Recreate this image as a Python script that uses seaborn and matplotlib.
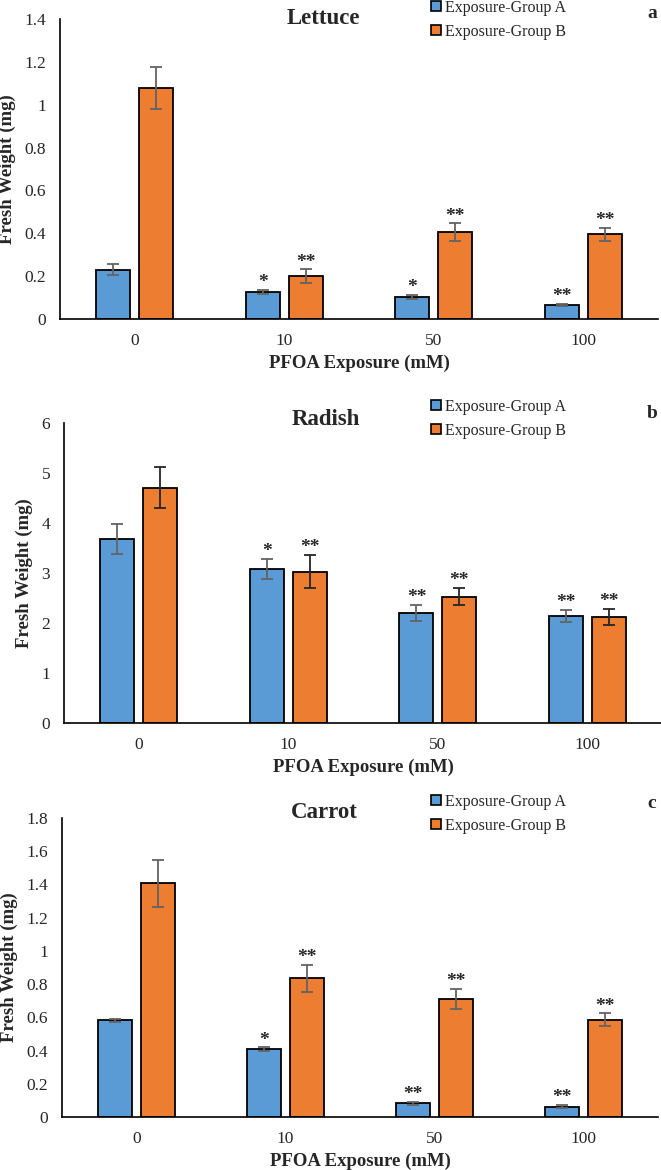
import numpy as np
import pandas as pd
import seaborn as sns
import matplotlib.pyplot as plt
from matplotlib.ticker import FuncFormatter, MultipleLocator

# PFOA dose categories (mM)
doses = ["0", "10", "50", "100"]
groups = ["Exposure-Group A", "Exposure-Group B"]

# Lettuce
lettuce_a = [0.230, 0.126, 0.104, 0.067]
lettuce_a_err = [0.026, 0.010, 0.010, 0.005]
lettuce_b = [1.078, 0.200, 0.406, 0.395]
lettuce_b_err = [0.100, 0.032, 0.040, 0.030]
lettuce_a_sig = ["", "*", "*", "**"]
lettuce_b_sig = ["", "**", "**", "**"]

# Radish
radish_a = [3.69, 3.09, 2.21, 2.15]
radish_a_err = [0.30, 0.20, 0.16, 0.12]
radish_b = [4.71, 3.03, 2.53, 2.13]
radish_b_err = [0.40, 0.33, 0.17, 0.16]
radish_a_sig = ["", "*", "**", "**"]
radish_b_sig = ["", "**", "**", "**"]

# Carrot
carrot_a = [0.581, 0.408, 0.082, 0.062]
carrot_a_err = [0.010, 0.012, 0.010, 0.010]
carrot_b = [1.406, 0.835, 0.711, 0.585]
carrot_b_err = [0.142, 0.082, 0.060, 0.040]
carrot_a_sig = ["", "*", "**", "**"]
carrot_b_sig = ["", "**", "**", "**"]

BLUE = "#5B9BD5"
ORANGE = "#ED7D31"

sns.set_style("white")
plt.rcParams["font.family"] = ["Liberation Serif", "DejaVu Serif"]

W, H = 661, 1170
fig = plt.figure(figsize=(W / 100, H / 100), dpi=100)


def px_axes(left, top, right, bottom):
	return fig.add_axes([left / W, 1 - bottom / H, (right - left) / W, (bottom - top) / H])


def panel(ax, title, letter, a, a_err, b, b_err, a_sig, b_sig, ymax, ystep,
		  err_colors, leg_y, title_xy, letter_y):
	df = pd.DataFrame({
		"dose": doses * 2,
		"weight": list(a) + list(b),
		"group": [groups[0]] * 4 + [groups[1]] * 4,
	})
	sns.barplot(data=df, x="dose", y="weight", hue="group", order=doses,
				hue_order=groups, palette=[BLUE, ORANGE], edgecolor="black",
				linewidth=1.3, width=0.57, gap=0.2, errorbar=None, ax=ax,
				saturation=1)

	# error bars + significance stars
	for cont, vals, errs, sigs, ec in zip(ax.containers, [a, b], [a_err, b_err],
										   [a_sig, b_sig], err_colors):
		xs = [p.get_x() + p.get_width() / 2 for p in cont.patches]
		ax.errorbar(xs, vals, yerr=errs, fmt="none", ecolor=ec, elinewidth=1.3,
					capsize=4, capthick=1.3, zorder=5)
		for x, v, e, s in zip(xs, vals, errs, sigs):
			if s:
				ax.annotate(s, (x, v + e), xytext=(0, -1),
							textcoords="offset points", ha="center", va="bottom",
							fontsize=14, fontweight="bold")

	ax.set_xlim(-0.5, 3.5)
	ax.set_ylim(0, ymax)
	ax.yaxis.set_major_locator(MultipleLocator(ystep))
	ax.yaxis.set_major_formatter(FuncFormatter(lambda v, _: f"{v:g}"))
	ax.tick_params(axis="both", length=0, labelsize=12.5, pad=10)
	for sp in ["top", "right"]:
		ax.spines[sp].set_visible(False)
	for sp in ["left", "bottom"]:
		ax.spines[sp].set_color("black")
		ax.spines[sp].set_linewidth(1.2)

	ax.set_xlabel("PFOA Exposure (mM)", fontsize=13.5, fontweight="bold", labelpad=4)
	ax.set_ylabel("Fresh Weight (mg)", fontsize=13.5, fontweight="bold", labelpad=6)

	fig.text(title_xy[0] / W, 1 - title_xy[1] / H, title, fontsize=16.5,
			 fontweight="bold", ha="center", va="center")
	fig.text(652 / W, 1 - letter_y / H, letter, fontsize=14, fontweight="bold",
			 ha="center", va="center")

	sns.move_legend(ax, loc="upper left", bbox_to_anchor=(431 / W, 1 - leg_y / H),
					bbox_transform=fig.transFigure, frameon=False, title=None,
					fontsize=11.5, handlelength=0.6, handleheight=0.6,
					handletextpad=0.25, labelspacing=0.5, borderpad=0,
					borderaxespad=0)
	for h in ax.get_legend().legend_handles:
		h.set_edgecolor("black")
		h.set_linewidth(1.2)


ax1 = px_axes(60, 19, 658, 319)
panel(ax1, "Lettuce", "a", lettuce_a, lettuce_a_err, lettuce_b, lettuce_b_err,
	  lettuce_a_sig, lettuce_b_sig, 1.4, 0.2, ["#636363", "#636363"],
	  0, (323, 18), 13)

ax2 = px_axes(64, 423, 662, 723)
panel(ax2, "Radish", "b", radish_a, radish_a_err, radish_b, radish_b_err,
	  radish_a_sig, radish_b_sig, 6, 1, ["#636363", "#262626"],
	  399, (326, 419), 413)

ax3 = px_axes(62, 818, 658, 1117)
panel(ax3, "Carrot", "c", carrot_a, carrot_a_err, carrot_b, carrot_b_err,
	  carrot_a_sig, carrot_b_sig, 1.8, 0.2, ["#636363", "#636363"],
	  794, (324, 812), 804)

fig.savefig("out.png", dpi=100)
